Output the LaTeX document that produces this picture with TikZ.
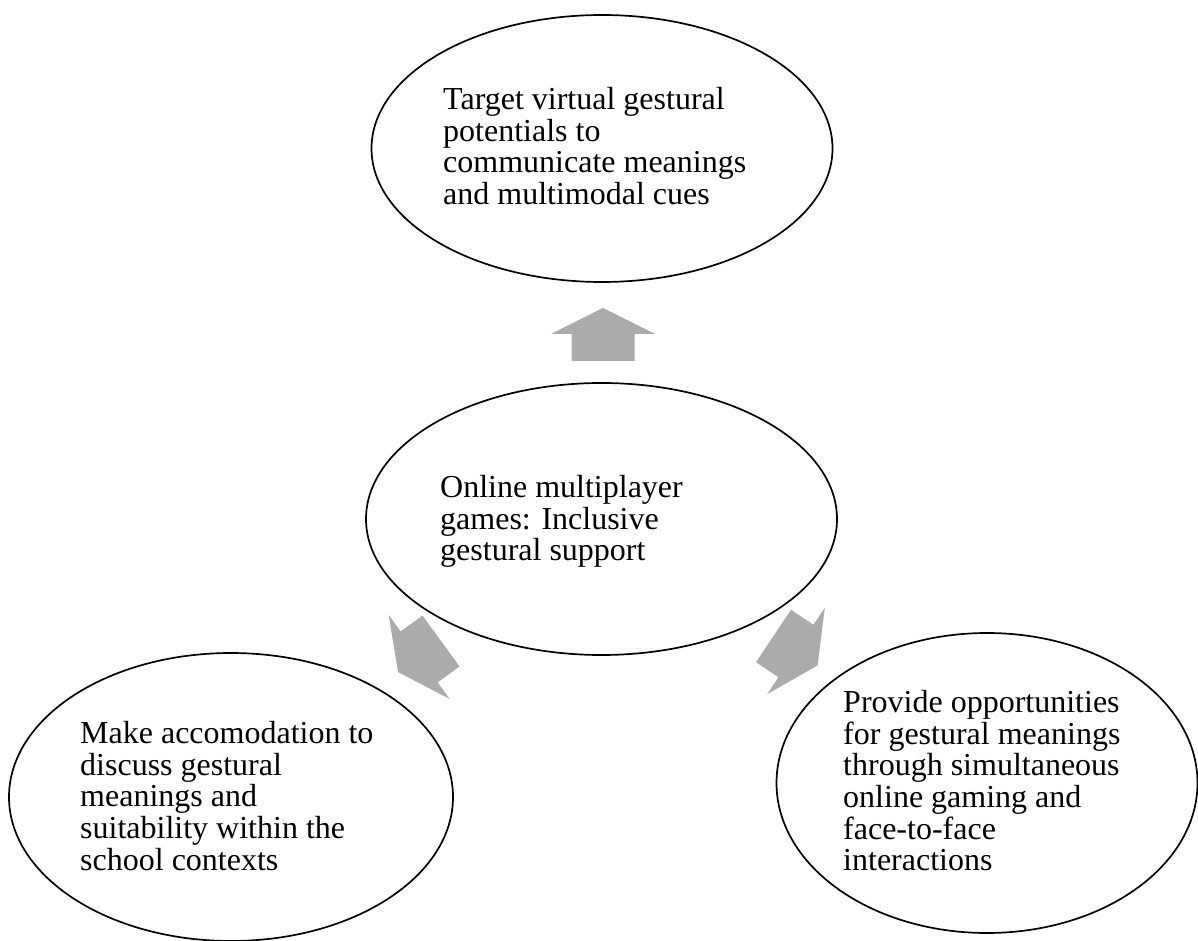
\documentclass[tikz,border=0pt]{standalone}
\usepackage{fontspec}
\setmainfont{Liberation Serif}
\usetikzlibrary{shapes.geometric}
\begin{document}
\begin{tikzpicture}[x=1pt,y=1pt,
  bubble/.style={draw=black, line width=1.7pt, ellipse, inner sep=0pt},
  bubbletext/.style={anchor=north west, inner sep=0pt, align=left,
    font=\fontsize{32}{31.7}\selectfont},
  blockfill/.style={fill=arrowgray, draw=none},
  blockarrow/.pic={
    \fill[blockfill] (0,31.5) -- (27,31.5) -- (27,52) -- (53,0)
      -- (27,-52) -- (27,-31.5) -- (0,-31.5) -- cycle;
  }]
\definecolor{arrowgray}{RGB}{171,171,171}
\useasboundingbox (0,0) rectangle (1198,940);

% the four ellipses
\node[bubble, minimum width=461pt, minimum height=267pt] (goal) at (602,791.5) {};
\node[bubble, minimum width=471pt, minimum height=272pt] (core) at (601.5,421) {};
\node[bubble, minimum width=444pt, minimum height=288pt] (school) at (231,143) {};
\node[bubble, minimum width=421pt, minimum height=300pt] (play) at (987,157) {};

% their texts
\node[bubbletext] (goaltext) at (443,853) {Target virtual gestural\\potentials to\\communicate meanings\\and multimodal cues};
\node[bubbletext] (coretext) at (440,465) {Online multiplayer\\games: Inclusive\\gestural support};
\node[bubbletext] (schooltext) at (80,219) {Make accomodation to\\discuss gestural\\meanings and\\suitability within the\\school contexts};
\node[bubbletext] (playtext) at (843,250) {Provide opportunities\\for gestural meanings\\through simultaneous\\online gaming and\\face-to-face\\interactions};

% block arrows from the centre ellipse outwards
\pic[rotate=90] (upgoal) at (603,579) {blockarrow};
\pic[rotate=-144] (toschool) at (441,299) {blockarrow};
\pic[rotate=-33.7] (toplay) at (773.5,304) {blockarrow};
\end{tikzpicture}
\end{document}
